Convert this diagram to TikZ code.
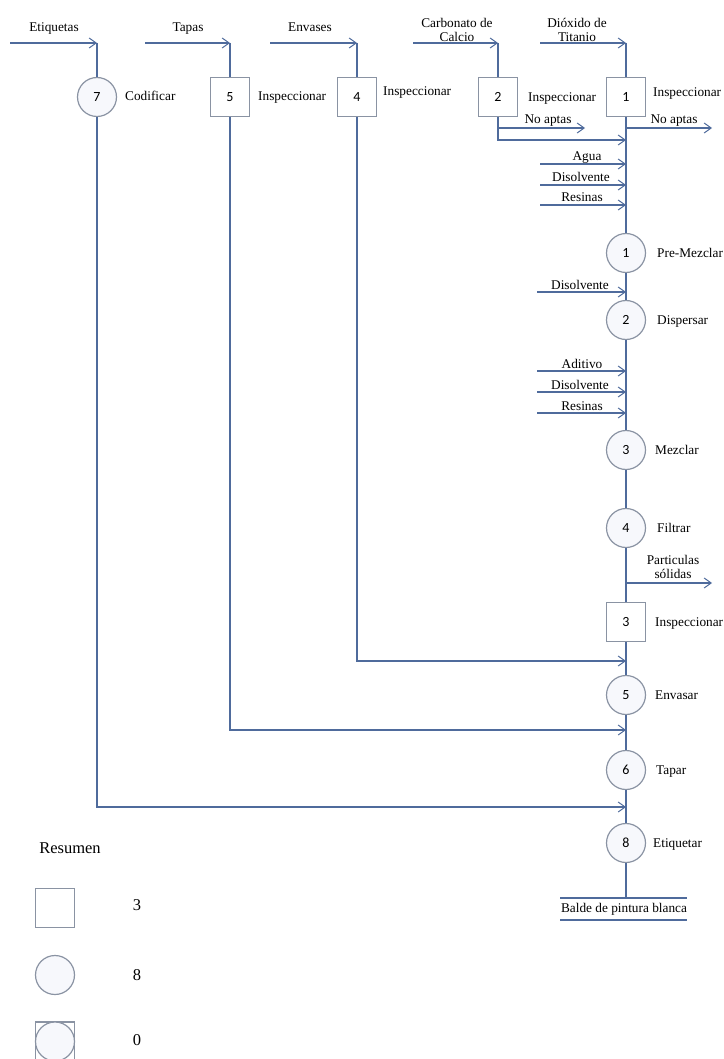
\documentclass[tikz,border=0pt]{standalone}
\usepackage{fontspec}
\setmainfont{Liberation Serif}
\newfontfamily\numfont{Carlito}
\usetikzlibrary{arrows.meta}
\definecolor{flow}{HTML}{4F6B9C}
\definecolor{shapeline}{HTML}{8A93A3}
\definecolor{shapefill}{HTML}{F7F8FC}

\tikzset{
  flowline/.style={draw=flow, line width=1.1pt},
  flowarrow/.style={flowline, -{Straight Barb[length=7pt,width=10pt,line width=1pt]}},
  opbox/.style={draw=shapeline, line width=1.2pt, fill=white, minimum size=39pt,
    inner sep=0pt, font=\numfont\fontsize{14}{16}\selectfont},
  opcircle/.style={circle, draw=shapeline, line width=1.2pt, fill=shapefill,
    minimum size=39pt, inner sep=0pt, font=\numfont\fontsize{14}{16}\selectfont},
  lbl/.style={font=\fontsize{13.3}{14}\selectfont, inner sep=0pt},
  leglbl/.style={font=\fontsize{16.5}{18}\selectfont, inner sep=0pt},
}

\begin{document}
\begin{tikzpicture}[x=1pt,y=-1pt]
\useasboundingbox (0,0) rectangle (723,1059);

% ---- operations on the main line ----
\node[opbox]    (i1) at (626,97)  {1};
\node[opcircle] (o1) at (626,253) {1};
\node[opcircle] (o2) at (626,320) {2};
\node[opcircle] (o3) at (626,450) {3};
\node[opcircle] (o4) at (626,528) {4};
\node[opbox]    (i3) at (626,622) {3};
\node[opcircle] (o5) at (626,695) {5};
\node[opcircle] (o6) at (626,770) {6};
\node[opcircle] (o8) at (626,843) {8};

% ---- operations on the side branches ----
\node[opcircle] (o7) at (97,97)  {7};
\node[opbox]    (i5) at (230,97) {5};
\node[opbox]    (i4) at (357,97) {4};
\node[opbox]    (i2) at (498,97) {2};

% ---- operation names ----
\node[lbl, anchor=base west] (t7)  at (125,101) {Codificar};
\node[lbl, anchor=base west] (t5)  at (258,101) {Inspeccionar};
\node[lbl, anchor=base west] (t4)  at (383,96)  {Inspeccionar};
\node[lbl, anchor=base west] (t2)  at (528,102) {Inspeccionar};
\node[lbl, anchor=base west] (t1)  at (653,97)  {Inspeccionar};
\node[lbl, anchor=base west] (to1) at (657,257) {Pre-Mezclar};
\node[lbl, anchor=base west] (to2) at (657,324) {Dispersar};
\node[lbl, anchor=base west] (to3) at (655,454) {Mezclar};
\node[lbl, anchor=base west] (to4) at (657,532) {Filtrar};
\node[lbl, anchor=base west] (ti3) at (655,626) {Inspeccionar};
\node[lbl, anchor=base west] (to5) at (655,699) {Envasar};
\node[lbl, anchor=base west] (to6) at (656,774) {Tapar};
\node[lbl, anchor=base west] (to8) at (653,847) {Etiquetar};

% ---- raw materials entering from the top ----
\coordinate (etqIn) at (10,43);   \coordinate (etqTop) at (97,43);
\coordinate (tapIn) at (145,43);  \coordinate (tapTop) at (230,43);
\coordinate (envIn) at (270,43);  \coordinate (envTop) at (357,43);
\coordinate (carIn) at (413,43);  \coordinate (carTop) at (498,43);
\coordinate (tioIn) at (540,43);  \coordinate (tioTop) at (626,43);

\draw[flowarrow] (etqIn) -- (etqTop);
\draw[flowarrow] (tapIn) -- (tapTop);
\draw[flowarrow] (envIn) -- (envTop);
\draw[flowarrow] (carIn) -- (carTop);
\draw[flowarrow] (tioIn) -- (tioTop);

\node[lbl, anchor=base] (lEtq) at (54,32)  {Etiquetas};
\node[lbl, anchor=base] (lTap) at (188,32) {Tapas};
\node[lbl, anchor=base] (lEnv) at (310,32) {Envases};
\node[lbl, anchor=south, align=center] (lCar) at (457,42) {Carbonato de\\Calcio};
\node[lbl, anchor=south, align=center] (lTio) at (577,42) {Dióxido de\\Titanio};

\draw[flowline] (etqTop) -- (o7);
\draw[flowline] (tapTop) -- (i5);
\draw[flowline] (envTop) -- (i4);
\draw[flowline] (carTop) -- (i2);
\draw[flowline] (tioTop) -- (i1);

% ---- main line ----
\draw[flowline] (i1) -- (o1);
\draw[flowline] (o1) -- (o2);
\draw[flowline] (o2) -- (o3);
\draw[flowline] (o3) -- (o4);
\draw[flowline] (o4) -- (i3);
\draw[flowline] (i3) -- (o5);
\draw[flowline] (o5) -- (o6);
\draw[flowline] (o6) -- (o8);
\coordinate (baldeTop) at (626,898);
\draw[flowline] (o8) -- (baldeTop);

% ---- rejected material ----
\coordinate (carRej) at (498,128);  \coordinate (carRejEnd) at (585,128);
\coordinate (tioRej) at (626,128);  \coordinate (tioRejEnd) at (712,128);
\draw[flowarrow] (carRej) -- (carRejEnd);
\draw[flowarrow] (tioRej) -- (tioRejEnd);
\node[lbl, anchor=base] (lRej2) at (548,124) {No aptas};
\node[lbl, anchor=base] (lRej1) at (674,124) {No aptas};

% ---- inspected calcium carbonate joins the main line ----
\coordinate (carJoin) at (626,140);
\draw[flowarrow] (i2) |- (carJoin);

% ---- additions before pre-mixing ----
\coordinate (aguaIn) at (540,164); \coordinate (aguaEnd) at (626,164);
\coordinate (dis1In) at (540,185); \coordinate (dis1End) at (626,185);
\coordinate (res1In) at (540,205); \coordinate (res1End) at (626,205);
\draw[flowarrow] (aguaIn) -- (aguaEnd);
\draw[flowarrow] (dis1In) -- (dis1End);
\draw[flowarrow] (res1In) -- (res1End);
\node[lbl, anchor=base] (lAgua) at (587,161) {Agua};
\node[lbl, anchor=base] (lDis1) at (581,182) {Disolvente};
\node[lbl, anchor=base] (lRes1) at (582,202) {Resinas};

% ---- addition before dispersing ----
\coordinate (dis2In) at (537,292); \coordinate (dis2End) at (626,292);
\draw[flowarrow] (dis2In) -- (dis2End);
\node[lbl, anchor=base] (lDis2) at (580,289) {Disolvente};

% ---- additions before mixing ----
\coordinate (aditIn) at (537,371); \coordinate (aditEnd) at (626,371);
\coordinate (dis3In) at (537,392); \coordinate (dis3End) at (626,392);
\coordinate (res3In) at (537,413); \coordinate (res3End) at (626,413);
\draw[flowarrow] (aditIn) -- (aditEnd);
\draw[flowarrow] (dis3In) -- (dis3End);
\draw[flowarrow] (res3In) -- (res3End);
\node[lbl, anchor=base] (lAdit) at (582,368) {Aditivo};
\node[lbl, anchor=base] (lDis3) at (580,389) {Disolvente};
\node[lbl, anchor=base] (lRes3) at (582,410) {Resinas};

% ---- solids removed after filtering ----
\coordinate (solOut) at (626,583); \coordinate (solEnd) at (712,583);
\draw[flowarrow] (solOut) -- (solEnd);
\node[lbl, anchor=south, align=center] (lSol) at (673,579) {Particulas\\sólidas};

% ---- side branches joining the main line ----
\coordinate (envJoin) at (626,661);
\coordinate (tapJoin) at (626,730);
\coordinate (etqJoin) at (626,807);
\draw[flowarrow] (i4) |- (envJoin);
\draw[flowarrow] (i5) |- (tapJoin);
\draw[flowarrow] (o7) |- (etqJoin);

% ---- final product ----
\coordinate (baldeTL) at (560,898); \coordinate (baldeTR) at (687,898);
\coordinate (baldeBL) at (560,920); \coordinate (baldeBR) at (687,920);
\draw[flowline] (baldeTL) -- (baldeTR);
\draw[flowline] (baldeBL) -- (baldeBR);
\node[lbl] (balde) at (624,909) {Balde de pintura blanca};

% ---- summary ----
\node[leglbl] (res) at (70,848) {Resumen};
\node[opbox] (legBox) at (55,908) {};
\node[leglbl] (legBoxN) at (137,905) {3};
\node[opcircle] (legCirc) at (55,975) {};
\node[leglbl] (legCircN) at (137,975) {8};
\node[opbox] (legComb) at (55,1041.5) {};
\node[opcircle] (legCombC) at (55,1041.5) {};
\node[leglbl] (legCombN) at (137,1040) {0};
\end{tikzpicture}
\end{document}
